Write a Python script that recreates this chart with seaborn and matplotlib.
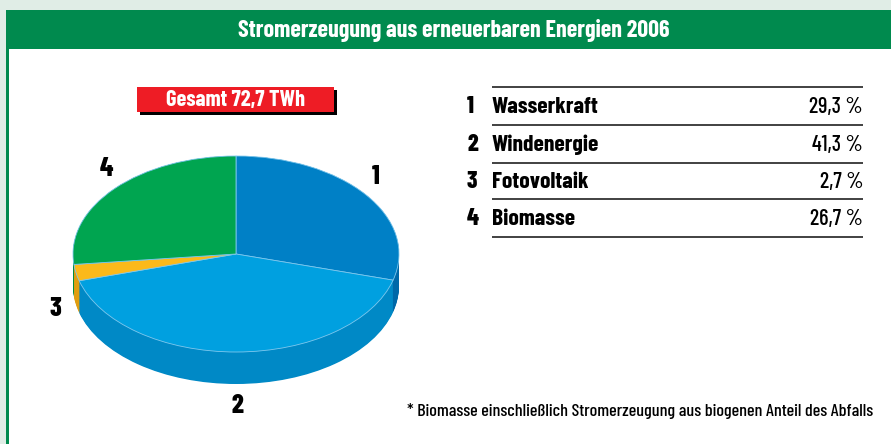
import matplotlib
matplotlib.use("Agg")
import matplotlib.pyplot as plt
from matplotlib.patches import Rectangle
import seaborn as sns

# ---- data ----
numbers = ["1", "2", "3", "4"]
categories = ["Wasserkraft", "Windenergie", "Fotovoltaik", "Biomasse"]
shares = [29.3, 41.3, 2.7, 26.7]
value_labels = ["29,3 %", "41,3 %", "2,7 %", "26,7 %"]
title = "Stromerzeugung aus erneuerbaren Energien 2006"
total_label = "Gesamt 72,7 TWh"
footnote = "* Biomasse einschließlich Stromerzeugung aus biogenen Anteil des Abfalls"

top_colors = ["#0080c6", "#00a0e0", "#fbb91a", "#00a550"]
side_colors = ["#0068a8", "#0089c6", "#e09e10", "#008c42"]

sns.set_theme(style="white")
FONT = ["Barlow Condensed", "DejaVu Sans"]
plt.rcParams["font.family"] = FONT

W, H = 891, 444
fig = plt.figure(figsize=(W / 100, H / 100), dpi=100)

# background / frame axes in pixel coordinates
bg = fig.add_axes([0, 0, 1, 1])
bg.set_xlim(0, W)
bg.set_ylim(H, 0)
bg.axis("off")
bg.add_patch(Rectangle((0, 0), W, H, color="#e0ede6", lw=0))
bg.add_patch(Rectangle((6, 10), W, H, color="white", lw=0))
bg.add_patch(Rectangle((6, 10), W, 39, color="#008a4e", lw=0))
bg.add_patch(Rectangle((6, 10), 3, H, color="#008a4e", lw=0))
bg.text(454, 30, title, color="white", fontsize=17.3, fontweight=700,
        ha="center", va="center")

# total label box
bg.add_patch(Rectangle((140, 90), 197, 25, color="black", lw=0))
bg.add_patch(Rectangle((137, 87), 197, 25, color="#ee1c25", lw=0))
bg.text(236, 100, total_label, color="white", fontsize=16.2, fontweight=700,
        ha="center", va="center")

# table
line_y = [87, 125, 163, 199, 237]
for y in line_y:
    bg.plot([492, 863], [y, y], color="#333333", lw=1.3, solid_capstyle="butt")
for i, (n, c, v) in enumerate(zip(numbers, categories, value_labels)):
    yc = (line_y[i] + line_y[i + 1]) / 2 + 1
    bg.text(467, yc, n, fontsize=17, fontweight=800, ha="left", va="center", color="black")
    bg.text(492, yc, c, fontsize=17, fontweight=700, ha="left", va="center", color="black")
    bg.text(863, yc, v, fontsize=16, fontweight=500, ha="right", va="center", color="black")

bg.text(407, 411, footnote, fontsize=13, fontweight=500, ha="left", va="center", color="black")

# pie labels
label_pos = [(376, 177), (237, 406), (55, 309), (106, 169)]
for n, (x, y) in zip(numbers, label_pos):
    bg.text(x, y, n, fontsize=19, fontweight=800, ha="center", va="center", color="black")

# ---- 3D pie ----
cx, cy, a, b = 236, 254, 163, 98
depth = 32 / b
xl, xr = -1.1, 1.1
yb, yt = -1.5, 1.1
left = cx + xl * a
bottom_px = cy - yb * b  # from top
axw = (xr - xl) * a
axh = (yt - yb) * b
ax = fig.add_axes([left / W, (H - bottom_px) / H, axw / W, axh / H])

N = 40
for k in range(N + 1):
    off = -depth * (1 - k / N)
    ax.pie(shares, colors=side_colors, startangle=90, counterclock=False,
           center=(0, off), radius=1, wedgeprops=dict(linewidth=0))
ax.pie(shares, colors=top_colors, startangle=90, counterclock=False,
       center=(0, 0), radius=1,
       wedgeprops=dict(linewidth=0.6, edgecolor="#7fc8ee"))
ax.set_aspect("auto")
ax.set_xlim(xl, xr)
ax.set_ylim(yb, yt)
ax.axis("off")

fig.savefig("out.png", dpi=100)
